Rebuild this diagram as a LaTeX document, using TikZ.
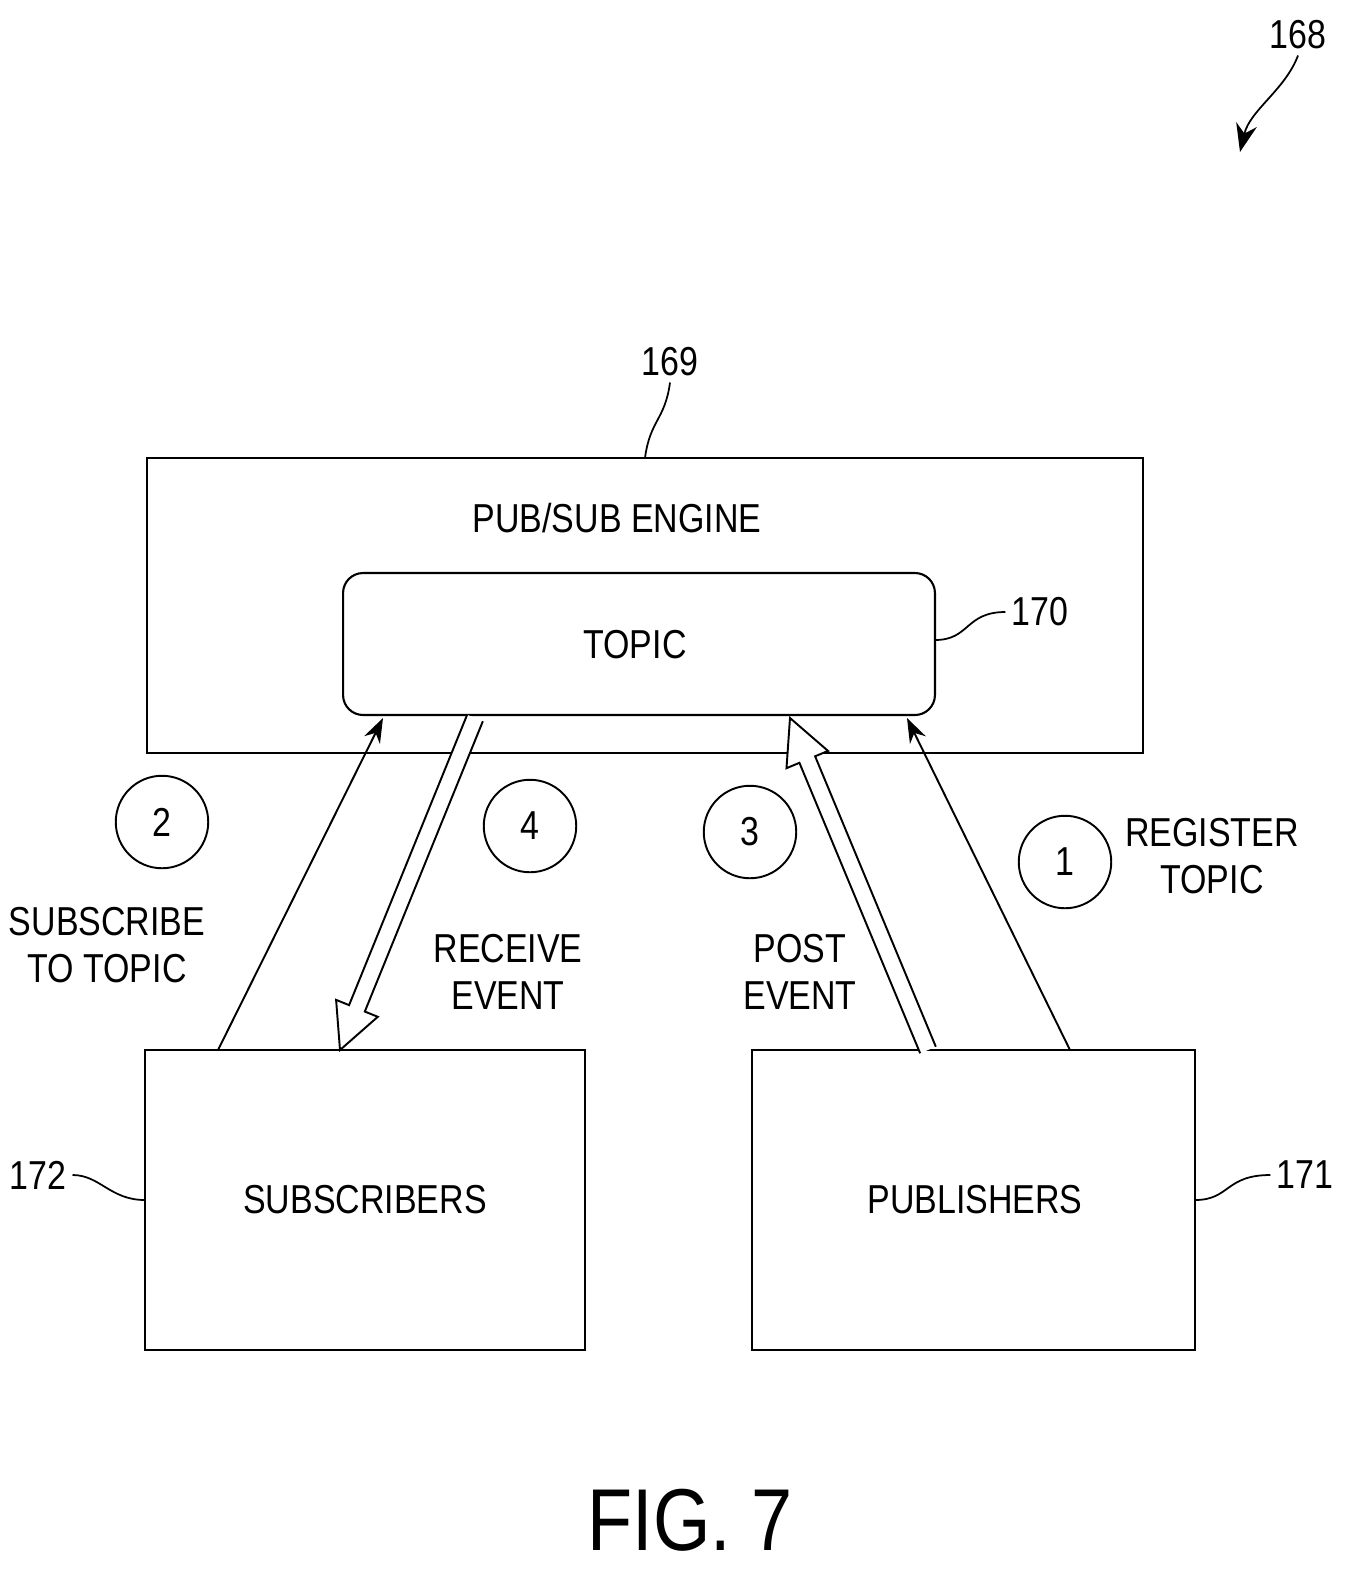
\documentclass[tikz,border=0pt]{standalone}
\usepackage{fontspec}
\setmainfont{Liberation Sans}[FakeStretch=0.84]
\usetikzlibrary{calc,arrows.meta}
\newcommand\harrow[2]{%
  \coordinate (hA) at #1; \coordinate (hB) at #2;
  \coordinate (hH) at ($(hB)!0.9cm!(hA)$);
  \draw[line width=1.1pt,fill=white,line join=miter]
    ($(hA)!0.17cm!90:(hB)$) -- ($(hH)!0.17cm!90:(hB)$) -- ($(hH)!0.45cm!90:(hB)$)
    -- (hB) -- ($(hH)!0.45cm!-90:(hB)$) -- ($(hH)!0.17cm!-90:(hB)$)
    -- ($(hA)!0.17cm!-90:(hB)$);}
\begin{document}
\begin{tikzpicture}[x=0.02cm,y=-0.02cm,
  box/.style={draw,line width=1.2pt},
  lbl/.style={font=\fontsize{23}{27}\selectfont,align=center},
  num/.style={draw,circle,line width=1.1pt,minimum size=1.85cm,font=\fontsize{23}{27}\selectfont},
  ref/.style={font=\fontsize{23}{27}\selectfont},
  thin/.style={line width=1.1pt,-{Stealth[length=14pt,width=10pt]}}]
\useasboundingbox (0,0) rectangle (1352,1587);
% boxes
\node[box,minimum width=19.92cm,minimum height=5.9cm] (engine) at (645,605.5) {};
\node[lbl] (enginet) at (617,518) {PUB/SUB ENGINE};
\node[box,rounded corners=0.4cm,minimum width=11.84cm,minimum height=2.84cm] (topic) at (639,644) {};
\node[lbl] (topict) at (635,645) {TOPIC};
\node[box,minimum width=8.8cm,minimum height=6cm] (subs) at (365,1200) {};
\node[lbl] (subst) at (365,1200) {SUBSCRIBERS};
\node[box,minimum width=8.86cm,minimum height=6cm] (pubs) at (973.5,1200) {};
\node[lbl] (pubst) at (975,1200) {PUBLISHERS};
% refs
\node[ref] (r169) at (670,362) {169};
\node[ref] (r170) at (1040,612) {170};
\node[ref] (r171) at (1305,1175) {171};
\node[ref] (r172) at (38,1175) {172};
\node[ref] (r168) at (1298,35) {168};
\coordinate (e169) at (645,458);
\coordinate (e170) at (935,640);
\coordinate (e171) at (1195,1200);
\coordinate (e172) at (145,1200);
\draw[line width=1pt] (e169) .. controls (650,420) and (665,420) .. (r169.south);
\draw[line width=1pt] (e170) .. controls (970,640) and (965,612) .. (r170.west);
\draw[line width=1pt] (e171) .. controls (1230,1200) and (1225,1175) .. (r171.west);
\draw[line width=1pt] (e172) .. controls (110,1200) and (100,1175) .. (r172.east);
\coordinate (t168) at (1240,152);
\draw[line width=1pt,-{Stealth[length=16pt,width=12pt]}] (r168.south) .. controls (1285,90) and (1250,110) .. (t168);
% thin arrows
\coordinate (s1) at (218,1050); \coordinate (s2) at (383,718);
\coordinate (p1) at (1070,1050); \coordinate (p2) at (907,718);
\draw[thin] (s1) -- (s2);
\draw[thin] (p1) -- (p2);
% hollow arrows
\harrow{(475,718)}{(340,1050)}
\harrow{(928,1050)}{(790,718)}
% circles
\node[num] (c2) at (162,822) {2};
\node[num] (c4) at (530,826) {4};
\node[num] (c3) at (750,832) {3};
\node[num] (c1) at (1065,862) {1};
% labels
\node[lbl] (l2) at (107,945) {SUBSCRIBE\\TO TOPIC};
\node[lbl] (l4) at (508,972) {RECEIVE\\EVENT};
\node[lbl] (l3) at (800,972) {POST\\EVENT};
\node[lbl] (l1) at (1212,856) {REGISTER\\TOPIC};
\node[font=\fontsize{50}{58}\selectfont] (fig) at (690,1520) {FIG. 7};
\end{tikzpicture}
\end{document}
